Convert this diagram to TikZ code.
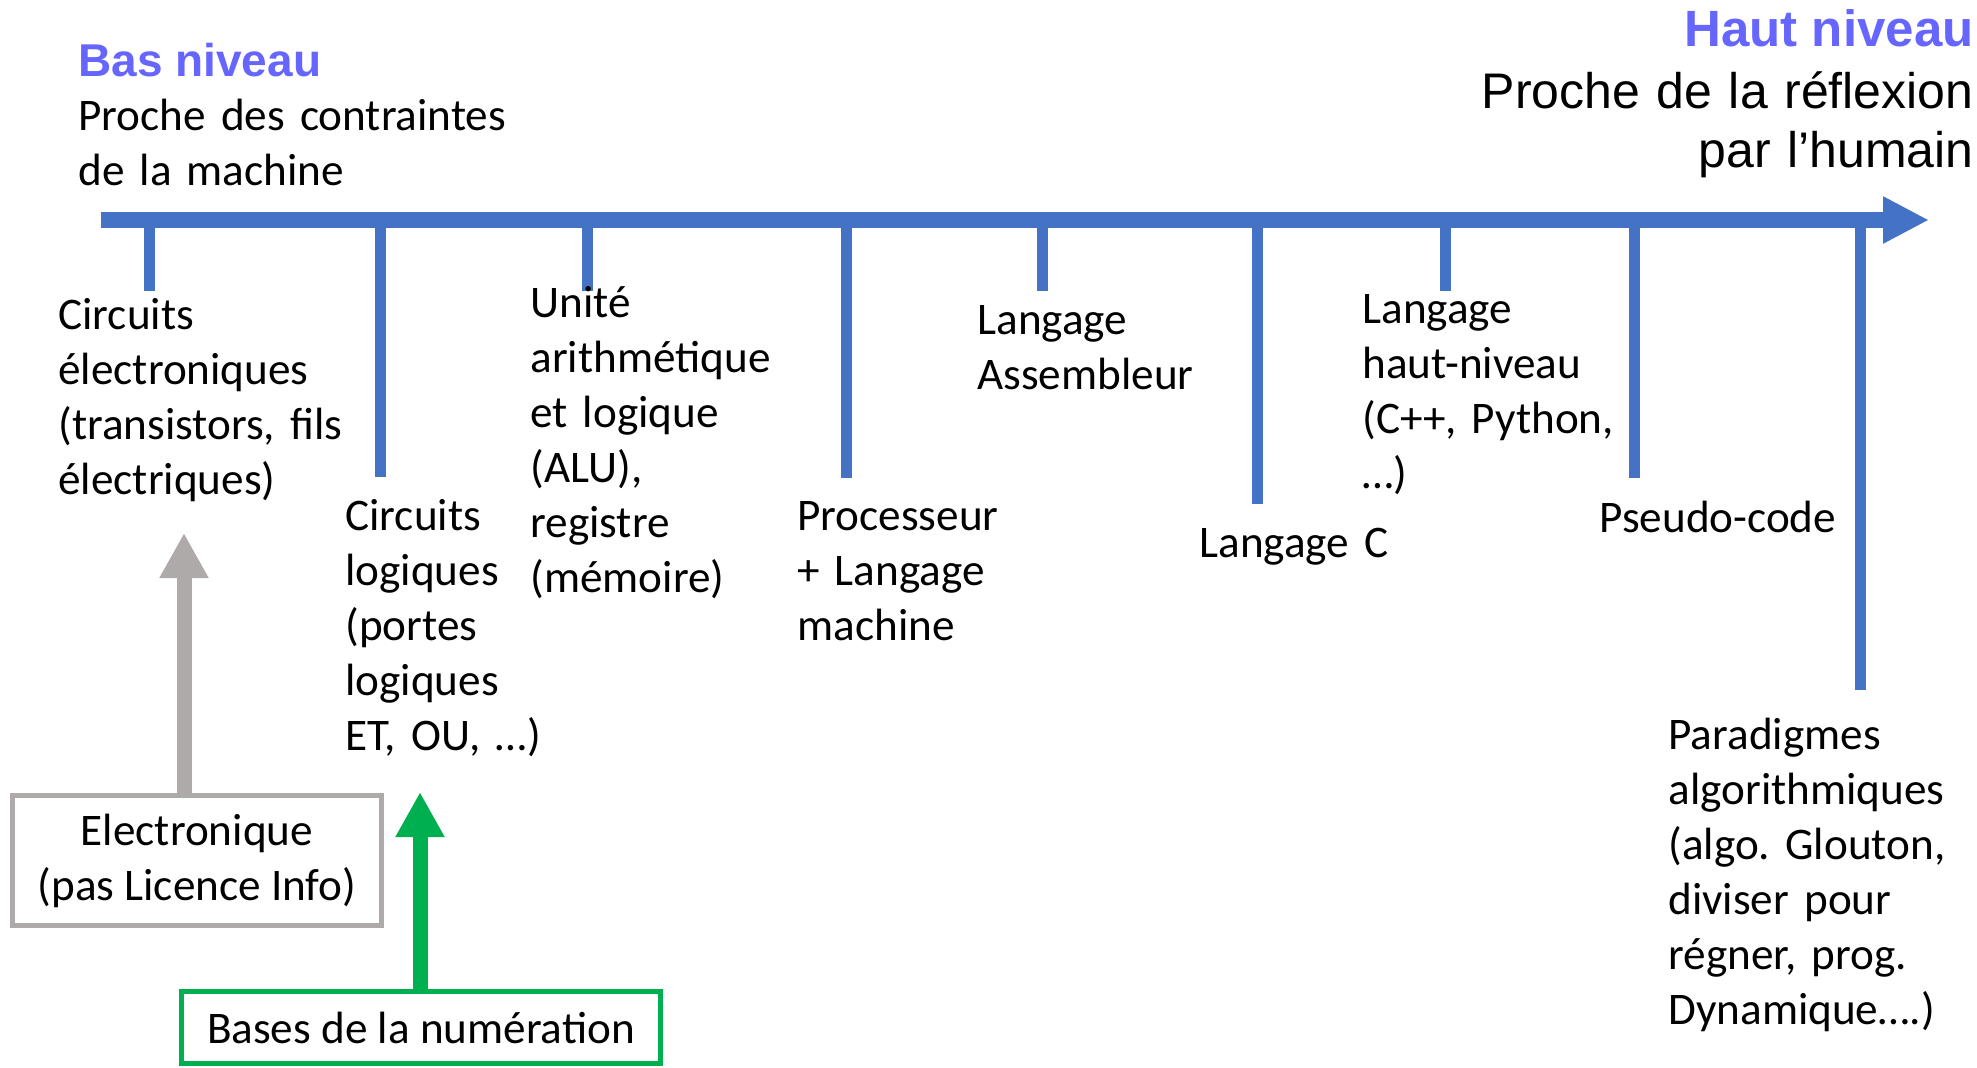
\documentclass[tikz,border=0pt]{standalone}
\usepackage{fontspec}
\setmainfont{Carlito}
\newfontfamily\headfont{Liberation Sans}
\usetikzlibrary{arrows.meta}
\frenchspacing

\definecolor{axisblue}{HTML}{4472C4}
\definecolor{levelpurple}{HTML}{6666FF}
\definecolor{boxgray}{HTML}{AEAAAA}
\definecolor{boxgreen}{HTML}{00B050}

\tikzset{
  body/.style={font=\fontsize{22.6}{27.5}\selectfont, inner sep=0pt,
    text width=230pt, align=left, anchor=base west},
  levelhead/.style={font=\headfont\bfseries\selectfont,
    text=levelpurple, inner sep=0pt},
  headright/.style={font=\headfont\fontsize{25}{29.5}\selectfont, inner sep=0pt,
    text width=320pt, align=right, anchor=base east},
  axisline/.style={draw=axisblue, line width=8pt,
    -{Triangle[length=23pt,width=22pt]}},
  tickline/.style={draw=axisblue, line width=5.5pt},
  graybox/.style={draw=boxgray, line width=2.5pt, inner sep=0pt,
    minimum width=184.5pt, minimum height=65pt, align=center,
    font=\fontsize{22.6}{27.5}\selectfont},
  greenbox/.style={draw=boxgreen, line width=2.5pt, inner sep=0pt,
    minimum width=239.5pt, minimum height=36pt, align=center,
    font=\fontsize{22.6}{27.5}\selectfont},
  grayarrow/.style={draw=boxgray, line width=7.5pt,
    -{Triangle[length=22.5pt,width=23pt]}},
  greenarrow/.style={draw=boxgreen, line width=7.5pt,
    -{Triangle[length=22.5pt,width=23pt]}},
}

\begin{document}
\begin{tikzpicture}[x=0.5pt, y=-0.5pt]
  \useasboundingbox (0,0) rectangle (1977,1067);

  % ends of the scale
  \node[levelhead, anchor=base west, font=\headfont\bfseries\fontsize{23}{27}\selectfont]
    (bas) at (78,76) {Bas niveau};
  \node[body, text width=260pt] (basdesc) at (78,130)
    {Proche des contraintes\\de la machine};
  \node[levelhead, anchor=base east, font=\headfont\bfseries\fontsize{25.5}{29.5}\selectfont]
    (haut) at (1974,46) {Haut niveau};
  \node[headright] (hautdesc) at (1974,108)
    {Proche de la réflexion\\par l’humain};

  % main axis
  \coordinate (a0) at (101,220);
  \coordinate (a1) at (1929,220);
  \draw[axisline] (a0) -- (a1);

  % tick ends
  \coordinate (t1) at (149,291);
  \coordinate (t2) at (380,477);
  \coordinate (t3) at (587,291);
  \coordinate (t4) at (846,478);
  \coordinate (t5) at (1042,291);
  \coordinate (t6) at (1257,504);
  \coordinate (t7) at (1445,291);
  \coordinate (t8) at (1634,478);
  \coordinate (t9) at (1860,690);
  \foreach \t in {t1,t2,t3,t4,t5,t6,t7,t8,t9}
    \draw[tickline] (\t |- a0) -- (\t);

  % levels
  \node[body] (circ) at (58,329)
    {Circuits\\électroniques\\(transistors, fils\\électriques)};
  \node[body] (logic) at (345,530)
    {Circuits\\logiques\\(portes\\logiques\\ET, OU, …)};
  \node[body] (alu) at (530,317)
    {Unité\\arithmétique\\et logique\\(ALU),\\registre\\(mémoire)};
  \node[body] (proc) at (797,530)
    {Processeur\\+ Langage\\machine};
  \node[body] (asm) at (977,334)
    {Langage\\Assembleur};
  \node[body] (langc) at (1199,557)
    {Langage C};
  \node[body] (hl) at (1362,323)
    {Langage\\haut-niveau\\(C++, Python,\\…)};
  \node[body] (pseudo) at (1599,532)
    {Pseudo-code};
  \node[body] (para) at (1668,749)
    {Paradigmes\\algorithmiques\\(algo. Glouton,\\diviser pour\\régner, prog.\\Dynamique….)};

  % courses below the scale
  \node[graybox] (elec) at (197,860.5)
    {Electronique\\(pas Licence Info)};
  \node[greenbox] (num) at (421,1027.5)
    {Bases de la numération};

  \coordinate (gtip) at (184,533);
  \draw[grayarrow] (elec.north -| gtip) -- (gtip);
  \coordinate (ntip) at (420,792);
  \draw[greenarrow] (num.north -| ntip) -- (ntip);
\end{tikzpicture}
\end{document}
